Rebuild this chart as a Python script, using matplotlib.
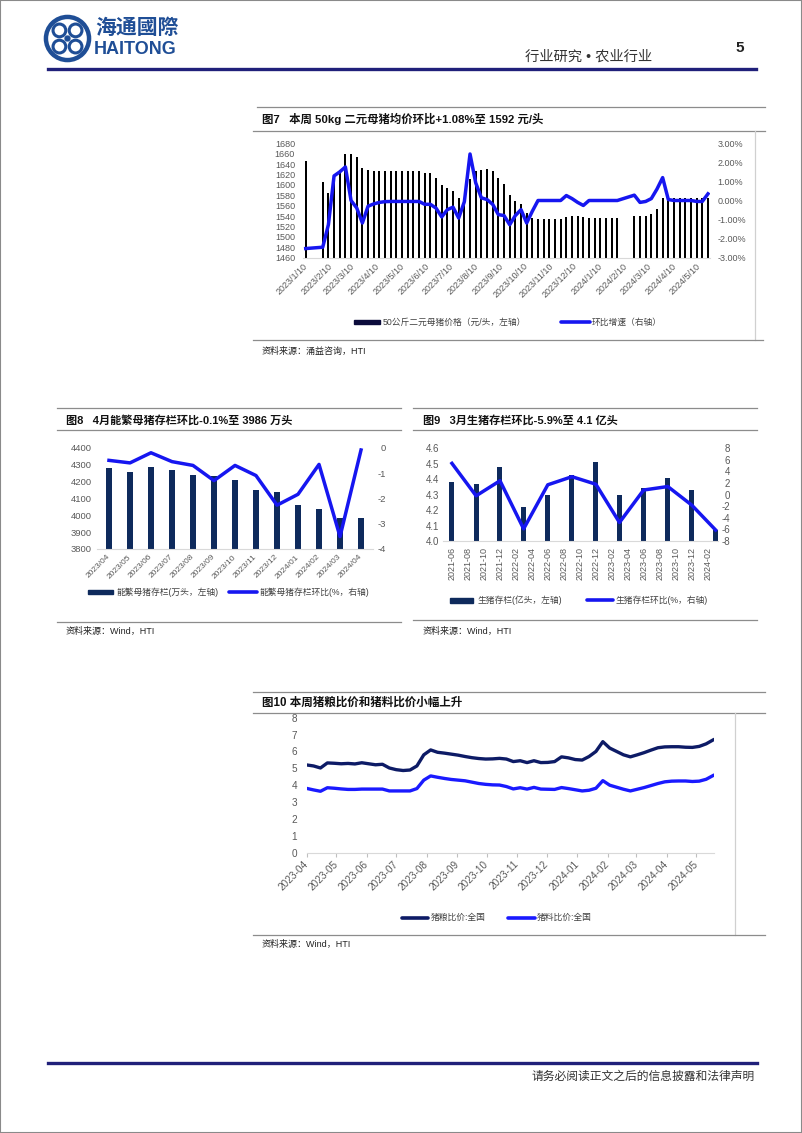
import matplotlib
matplotlib.use("Agg")
import matplotlib.pyplot as plt
import pandas as pd
from matplotlib.lines import Line2D
from matplotlib.patches import Rectangle, Circle

plt.rcParams['font.family'] = ['Liberation Sans', 'Noto Sans CJK SC', 'DejaVu Sans']
plt.rcParams['axes.unicode_minus'] = False

W, H = 802, 1133
NAVY = '#0e2a5c'
BLUE = '#1616f0'
TICK = '#595959'
RULE = '#8c8c8c'
LOGO = '#1f4e96'

# ---------------- 图7 二元母猪均价（周度）----------------
sow_weeks = pd.date_range("2023-01-10", periods=72, freq="7D")
sow_dates = sow_weeks.delete([1, 2, 56, 57])   # 春节停报
sow_price = [1646,
             1606, 1585, 1605, 1629, 1660, 1660, 1653, 1633, 1629, 1627,
             1627, 1626, 1626, 1626, 1626, 1626, 1626, 1626, 1623, 1622,
             1614, 1600, 1595, 1589, 1574, 1573, 1611, 1626, 1629, 1630,
             1626, 1613, 1601, 1580, 1570, 1564, 1546, 1536, 1534, 1534,
             1534, 1534, 1534, 1538, 1540, 1540, 1538, 1536, 1536, 1536,
             1536, 1536, 1536,
             1541, 1541, 1541, 1544, 1554, 1574, 1575, 1575, 1575, 1575,
             1575, 1574, 1574, 1574]
sow_wow = [-2.52,
           -2.45, -1.27, 1.29, 1.50, 1.76, 0.00, -0.39, -1.18, -0.30, -0.18,
           -0.10, -0.06, -0.05, -0.05, -0.05, -0.05, -0.05, -0.05, -0.20, -0.20,
           -0.40, -0.86, -0.48, -0.35, -0.92, -0.06, 2.44, 0.93, 0.14, 0.05,
           -0.20, -0.74, -0.79, -1.27, -0.79, -0.48, -1.18, -0.56, 0.00, 0.00,
           0.00, 0.00, 0.00, 0.26, 0.10, -0.10, -0.26, 0.00, 0.00, 0.00,
           0.00, 0.00, 0.00,
           0.28, -0.10, -0.05, 0.10, 0.60, 1.20, 0.05, 0.00, 0.00, 0.00,
           0.00, -0.05, -0.05, 0.35]
sow_ticks = ["2023/1/10", "2023/2/10", "2023/3/10", "2023/4/10", "2023/5/10",
             "2023/6/10", "2023/7/10", "2023/8/10", "2023/9/10", "2023/10/10",
             "2023/11/10", "2023/12/10", "2024/1/10", "2024/2/10", "2024/3/10",
             "2024/4/10", "2024/5/10"]

# ---------------- 图8 能繁母猪存栏（月度）----------------
breed_months = ["2023/04", "2023/05", "2023/06", "2023/07", "2023/08", "2023/09",
                "2023/10", "2023/11", "2023/12", "2024/01", "2024/02", "2024/03",
                "2024/04"]
breed_stock = [4278, 4256, 4287, 4265, 4240, 4232, 4210, 4150, 4136, 4060,
               4037, 3985, 3982]
breed_mom = [-0.50, -0.60, -0.20, -0.55, -0.70, -1.30, -0.70, -1.10, -2.27,
             -1.84, -0.66, -3.51, -0.09]

# ---------------- 图9 生猪存栏（季度）----------------
hog_quarters = ["2021-06", "2021-09", "2021-12", "2022-03", "2022-06", "2022-09",
                "2022-12", "2023-03", "2023-06", "2023-09", "2023-12", "2024-03"]
hog_stock = [4.38, 4.37, 4.48, 4.22, 4.30, 4.43, 4.51, 4.30, 4.34, 4.41, 4.33, 4.07]
hog_qoq = [5.4, -0.2, 2.4, -5.9, 1.7, 3.1, 1.8, -4.8, 0.8, 1.4, -1.8, -6.1]
hog_ticks = ["2021-06", "2021-08", "2021-10", "2021-12", "2022-02", "2022-04",
             "2022-06", "2022-08", "2022-10", "2022-12", "2023-02", "2023-04",
             "2023-06", "2023-08", "2023-10", "2023-12", "2024-02"]

# ---------------- 图10 猪粮比价、猪料比价（周度）----------------
ratio_dates = pd.date_range("2023-04-01", periods=60, freq="7D")
pig_grain = [5.20, 5.14, 5.02, 5.32, 5.30, 5.27, 5.29, 5.26, 5.33, 5.27,
             5.21, 5.24, 5.02, 4.92, 4.87, 4.90, 5.14, 5.80, 6.09, 5.95,
             5.90, 5.84, 5.78, 5.70, 5.63, 5.58, 5.55, 5.56, 5.59, 5.55,
             5.40, 5.45, 5.34, 5.45, 5.34, 5.35, 5.40, 5.68, 5.62, 5.52,
             5.49, 5.70, 6.00, 6.58, 6.20, 6.00, 5.80, 5.68, 5.80, 5.93,
             6.08, 6.22, 6.27, 6.28, 6.28, 6.25, 6.24, 6.30, 6.45, 6.68]
pig_feed = [3.81, 3.72, 3.64, 3.85, 3.82, 3.78, 3.75, 3.75, 3.77, 3.77,
            3.77, 3.77, 3.66, 3.66, 3.66, 3.66, 3.80, 4.30, 4.55, 4.47,
            4.40, 4.34, 4.30, 4.26, 4.18, 4.10, 4.05, 4.02, 4.01, 3.92,
            3.78, 3.85, 3.77, 3.87, 3.77, 3.76, 3.75, 3.86, 3.80, 3.73,
            3.66, 3.70, 3.82, 4.27, 4.00, 3.88, 3.76, 3.66, 3.76, 3.86,
            3.98, 4.10, 4.20, 4.24, 4.25, 4.25, 4.22, 4.24, 4.35, 4.57]
ratio_ticks = ["2023-04", "2023-05", "2023-06", "2023-07", "2023-08", "2023-09",
               "2023-10", "2023-11", "2023-12", "2024-01", "2024-02", "2024-03",
               "2024-04", "2024-05"]


fig = plt.figure(figsize=(W / 100, H / 100), dpi=100)
fig.patch.set_facecolor('white')


def fx(x):
    return x / W


def fy(y):
    return 1 - y / H


def add_ax(l, t, r, b):
    return fig.add_axes([fx(l), fy(b), (r - l) / W, (b - t) / H])


def hline(x0, x1, y, color=RULE, lw=0.9):
    fig.add_artist(Line2D([fx(x0), fx(x1)], [fy(y), fy(y)], color=color, lw=lw,
                          transform=fig.transFigure))


def vline(x, y0, y1, color='#d0d0d0', lw=0.9):
    fig.add_artist(Line2D([fx(x), fx(x)], [fy(y0), fy(y1)], color=color, lw=lw,
                          transform=fig.transFigure))


def text(x, y, s, size, **kw):
    kw.setdefault('va', 'center')
    fig.text(fx(x), fy(y), s, fontsize=size, **kw)


def key_patch(x0, x1, y, color, h=4.5):
    fig.add_artist(Rectangle((fx(x0), fy(y + h / 2)), (x1 - x0) / W, h / H,
                             color=color, transform=fig.transFigure))


def key_line(x0, x1, y, color, lw=2.6):
    fig.add_artist(Line2D([fx(x0), fx(x1)], [fy(y), fy(y)], color=color, lw=lw,
                          solid_capstyle='round', transform=fig.transFigure))


def style(ax, bottom=True, size=6.5):
    for s in ax.spines.values():
        s.set_visible(False)
    if bottom:
        ax.spines['bottom'].set_visible(True)
        ax.spines['bottom'].set_color('#d9d9d9')
        ax.spines['bottom'].set_linewidth(0.8)
    ax.tick_params(length=0, labelsize=size, labelcolor=TICK)
    ax.set_facecolor('none')


# ---------------- 页眉 / 页脚 ----------------
fig.add_artist(Rectangle((0, 0), 1, 1, fill=False, edgecolor='#8a8a8a', lw=1.5,
                         transform=fig.transFigure))
lax = add_ax(43, 14, 92, 63)
lax.set_xlim(-1, 1)
lax.set_ylim(-1, 1)
lax.set_aspect('equal')
lax.axis('off')
lax.add_patch(Circle((0, 0), 0.88, fill=False, lw=3.2, color=LOGO))
for cx, cy in [(-0.33, 0.33), (0.33, 0.33), (-0.33, -0.33), (0.33, -0.33)]:
    lax.add_patch(Circle((cx, cy), 0.26, fill=False, lw=2.2, color=LOGO))
lax.add_patch(Circle((0, 0), 0.1, color=LOGO))
text(95, 28, "海通國際", 15, color=LOGO, fontweight='bold')
text(94, 49, "HAITONG", 13, color=LOGO, fontweight='bold')
text(525, 57, "行业研究 • 农业行业", 10.3, color='#333333')
text(735, 48, "5", 11, color='#222222', fontweight='bold')
hline(48, 756, 69, color='#20207a', lw=2.4)

hline(48, 757, 1063, color='#20207a', lw=2.4)
text(755, 1077, "请务必阅读正文之后的信息披露和法律声明", 8.5, color='#333333', ha='right')

# ---------------- 图7 ----------------
hline(257, 765, 107)
text(262, 119, "图7   本周 50kg 二元母猪均价环比+1.08%至 1592 元/头", 8.2, fontweight='bold',
     color='#111111')
hline(253, 765, 131)
vline(755, 131, 340)
hline(253, 763, 340)
text(262, 351, "资料来源：涌益咨询，HTI", 6.5, color='#222222')

ax = add_ax(303.3, 143.3, 710.4, 257.7)
ax.bar(sow_dates, sow_price, width=2.2, color='black', zorder=2)
ax.set_ylim(1460, 1680)
ax.set_yticks(range(1460, 1681, 20))
ax.set_xlim(pd.Timestamp("2023-01-07"), pd.Timestamp("2024-05-24"))
ax.set_xticks(pd.to_datetime(sow_ticks, format="%Y/%m/%d"))
ax.set_xticklabels(sow_ticks, rotation=45, ha='right', va='center',
                   rotation_mode='anchor')
style(ax)
ax.tick_params(axis='y', pad=6)
ax.tick_params(axis='x', pad=5)
ax2 = ax.twinx()
ax2.plot(sow_dates, sow_wow, color=BLUE, lw=2.5, solid_joinstyle='round', zorder=3)
ax2.set_ylim(-3, 3)
ax2.set_yticks(range(-3, 4))
ax2.set_yticklabels([f"{v:.2f}%" for v in range(-3, 4)])
style(ax2, bottom=False)
ax2.tick_params(axis='y', pad=5)

key_patch(354, 380, 322, '#0b0b3b')
text(383, 322, "50公斤二元母猪价格（元/头，左轴）", 6.3, color='#404040')
key_line(561, 590, 322, BLUE)
text(592, 322, "环比增速（右轴）", 6.3, color='#404040')

# ---------------- 图8 ----------------
hline(57, 401, 408)
text(66, 420, "图8   4月能繁母猪存栏环比-0.1%至 3986 万头", 8, fontweight='bold',
     color='#111111')
hline(57, 401, 430)
hline(57, 401, 622)
text(66, 631, "资料来源：Wind，HTI", 6.5, color='#222222')

ax = add_ax(97, 447.7, 373, 549)
xs = range(len(breed_months))
ax.bar(xs, breed_stock, width=0.29, color=NAVY, zorder=2)
ax.set_ylim(3800, 4400)
ax.set_yticks(range(3800, 4401, 100))
ax.set_xlim(-0.57, len(breed_months) - 0.43)
ax.set_xticks(list(xs))
ax.set_xticklabels(breed_months, rotation=45, ha='right', va='center',
                   rotation_mode='anchor')
style(ax, size=6.8)
ax.tick_params(axis='y', pad=4)
ax.tick_params(axis='x', pad=5, labelsize=6)
ax2 = ax.twinx()
ax2.plot(list(xs), breed_mom, color=BLUE, lw=2.5, zorder=3)
ax2.set_ylim(-4, 0)
ax2.set_yticks(range(-4, 1))
style(ax2, bottom=False, size=6.8)
ax2.tick_params(axis='y', pad=9.5)
for lab in ax2.get_yticklabels():
    lab.set_ha('right')

key_patch(88, 113, 592, NAVY)
text(116, 592, "能繁母猪存栏(万头，左轴)", 6.3, color='#404040')
key_line(229, 257, 592, BLUE)
text(259, 592, "能繁母猪存栏环比(%，右轴)", 6.3, color='#404040')

# ---------------- 图9 ----------------
hline(413, 757, 408)
text(423, 420, "图9   3月生猪存栏环比-5.9%至 4.1 亿头", 8, fontweight='bold', color='#111111')
hline(413, 757, 430)
hline(413, 757, 620)
text(423, 631, "资料来源：Wind，HTI", 6.5, color='#222222')

ax = add_ax(443, 448.3, 718.5, 541)
hog_x = pd.to_datetime(hog_quarters, format="%Y-%m")
ax.bar(hog_x, hog_stock, width=19, color=NAVY, zorder=2)
ax.set_ylim(4.0, 4.6)
ax.set_yticks([4.0, 4.1, 4.2, 4.3, 4.4, 4.5, 4.6])
ax.set_yticklabels([f"{v:.1f}" for v in [4.0, 4.1, 4.2, 4.3, 4.4, 4.5, 4.6]])
ax.set_xlim(pd.Timestamp("2021-04-28"), pd.Timestamp("2024-03-12"))
ax.set_xticks(pd.to_datetime(hog_ticks, format="%Y-%m"))
ax.set_xticklabels(hog_ticks, rotation=90, ha='center', va='top')
style(ax, size=7)
ax.tick_params(axis='y', pad=3)
ax.tick_params(axis='x', pad=4, labelsize=6.5)
ax2 = ax.twinx()
ax2.plot(hog_x, hog_qoq, color=BLUE, lw=2.5, zorder=3)
ax2.set_ylim(-8, 8)
ax2.set_yticks(range(-8, 9, 2))
style(ax2, bottom=False, size=7)
ax2.tick_params(axis='y', pad=8.5)
for lab in ax2.get_yticklabels():
    lab.set_ha('right')

key_patch(450, 473, 600, NAVY, h=5)
text(477, 600, "生猪存栏(亿头，左轴)", 6.3, color='#404040')
key_line(587, 613, 600, BLUE)
text(615, 600, "生猪存栏环比(%，右轴)", 6.3, color='#404040')

# ---------------- 图10 ----------------
hline(253, 765, 691.5)
text(262, 702.5, "图10 本周猪粮比价和猪料比价小幅上升", 8.3, fontweight='bold', color='#111111')
hline(253, 765, 713)
vline(735, 713, 935)
hline(253, 765, 935)
text(262, 944, "资料来源：Wind，HTI", 6.5, color='#222222')

ax = add_ax(306.7, 717.7, 714, 852.7)
ax.plot(ratio_dates, pig_grain, color='#0d1b66', lw=2.4, solid_joinstyle='round', zorder=3)
ax.plot(ratio_dates, pig_feed, color='#1a1aff', lw=2.4, solid_joinstyle='round', zorder=3)
ax.set_ylim(0, 8)
ax.set_yticks(range(0, 9))
ax.set_xlim(pd.Timestamp("2023-04-01"), pd.Timestamp("2024-05-19"))
ax.set_xticks(pd.to_datetime(ratio_ticks, format="%Y-%m"))
ax.set_xticklabels(ratio_ticks, rotation=45, ha='right', va='center',
                   rotation_mode='anchor')
style(ax, size=7.2)
ax.tick_params(axis='x', length=3, color='#bfbfbf', pad=4)
ax.tick_params(axis='y', pad=7)

key_line(402, 428, 917.5, '#0d1b66')
text(431, 917.5, "猪粮比价:全国", 6.3, color='#404040')
key_line(508, 535, 917.5, '#1a1aff')
text(537, 917.5, "猪料比价:全国", 6.3, color='#404040')

fig.savefig("out.png", dpi=100)
